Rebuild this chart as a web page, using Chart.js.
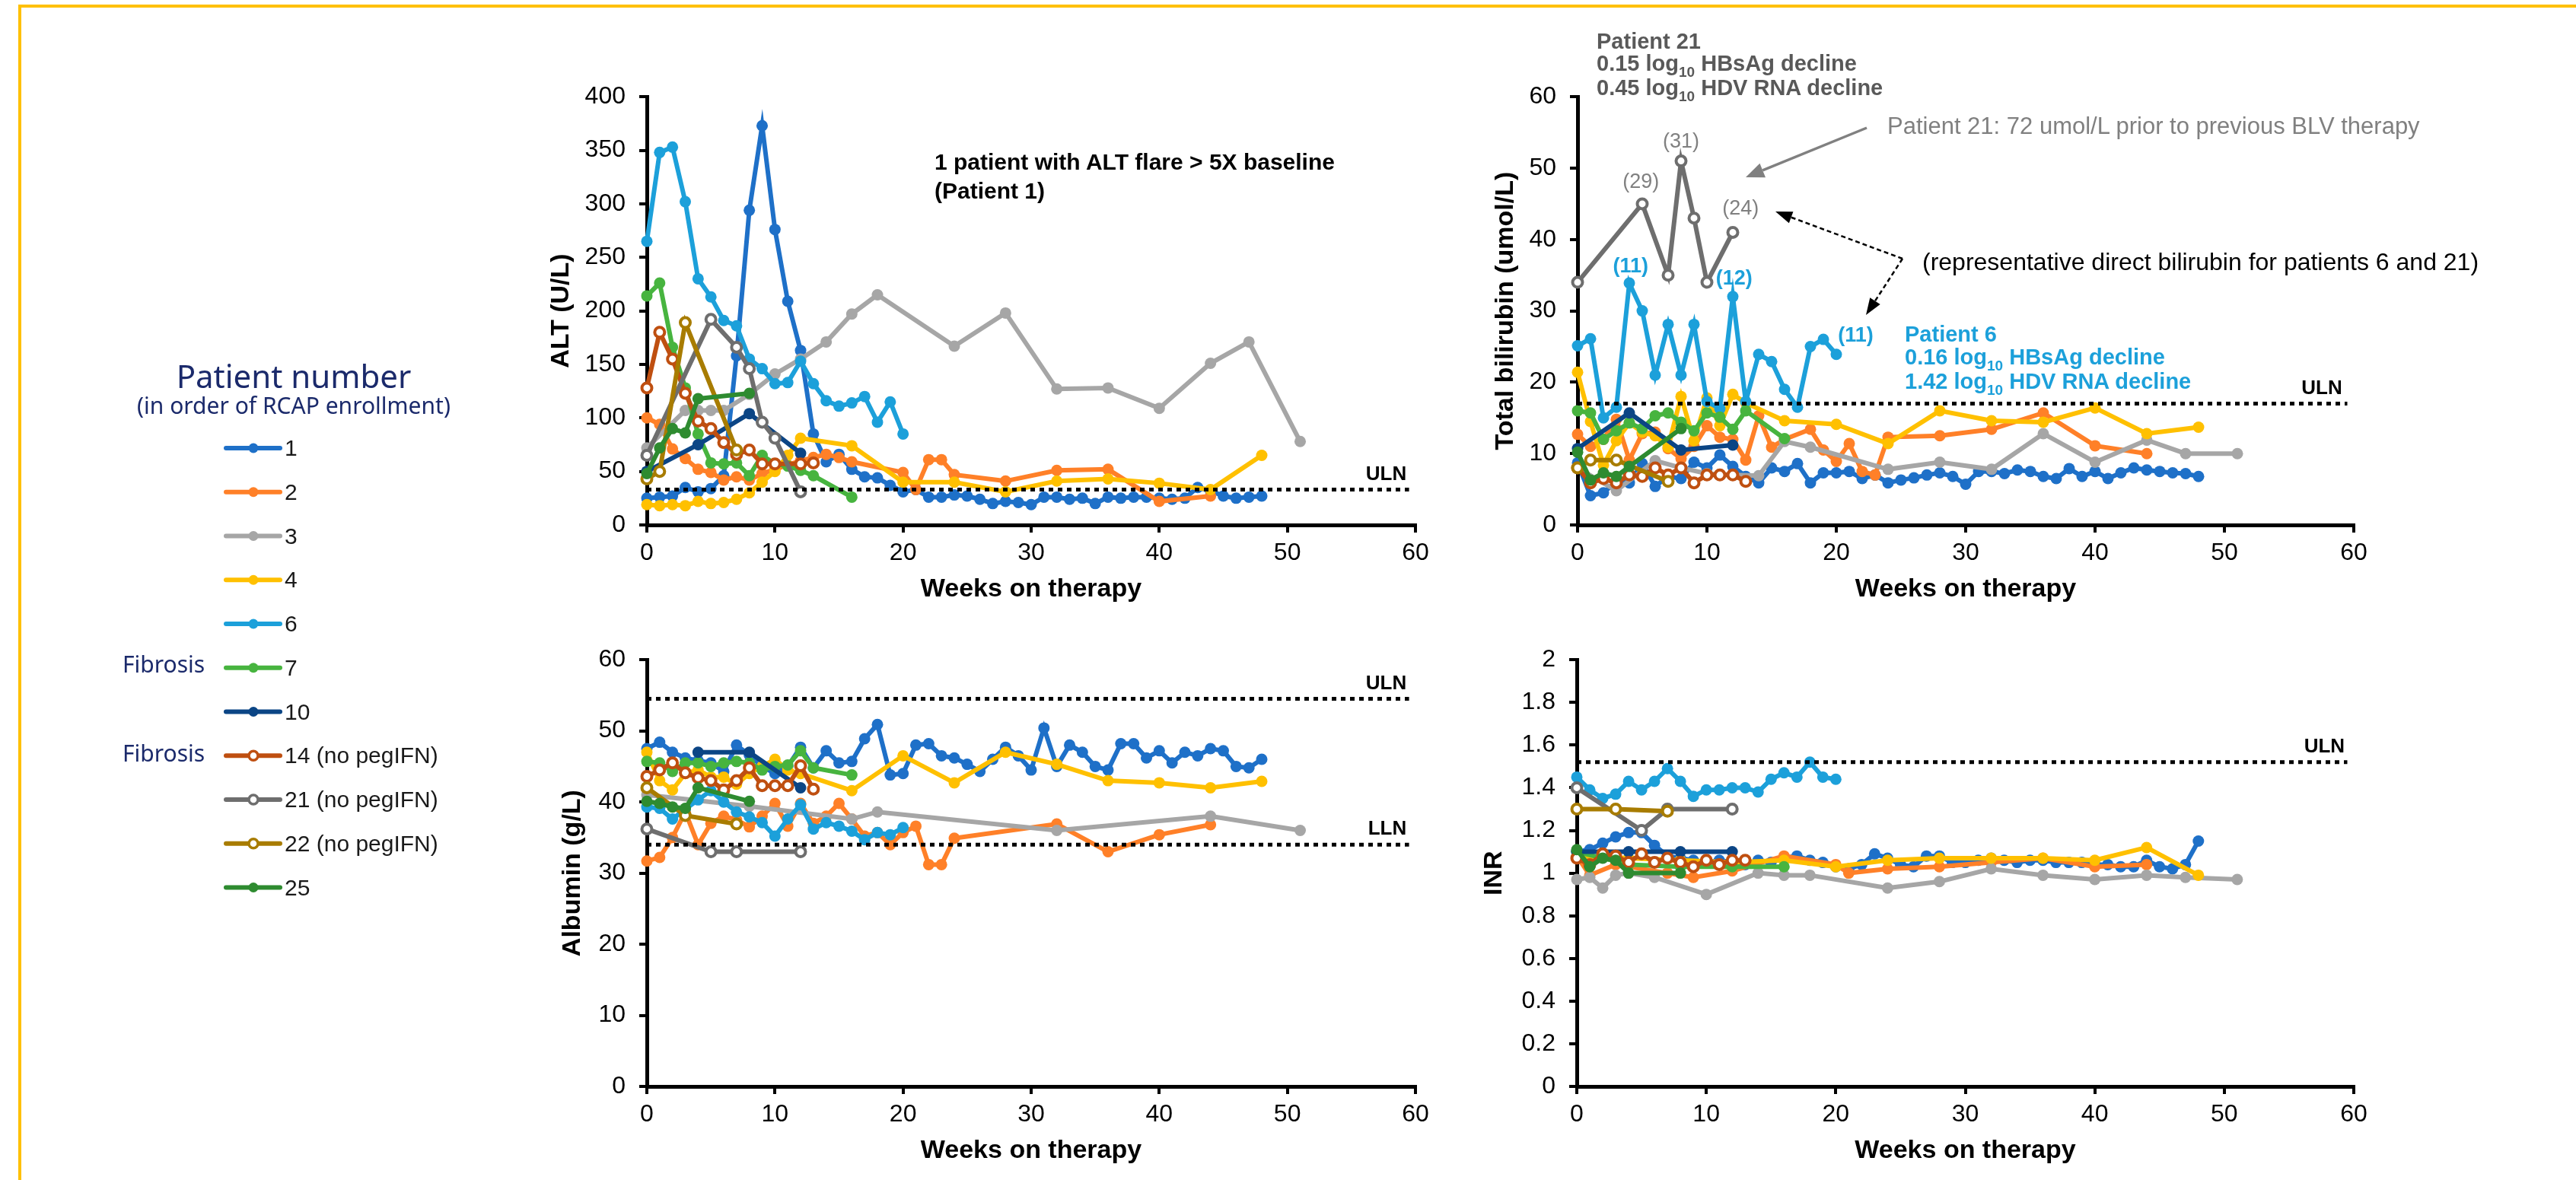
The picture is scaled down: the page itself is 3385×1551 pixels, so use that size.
<!DOCTYPE html>
<html><head><meta charset="utf-8">
<script src="https://cdn.jsdelivr.net/npm/chart.js@4.4.1/dist/chart.umd.min.js"></script>
<style>
html,body{margin:0;padding:0;background:#fff;width:3385px;height:1551px;overflow:hidden;font-family:"Liberation Sans",Arial,sans-serif;}
.frameTop{position:absolute;left:24px;top:6px;width:3361px;height:4px;background:#FFC000;}
.frameLeft{position:absolute;left:24px;top:6px;width:4px;height:1545px;background:#FFC000;}
canvas{position:absolute;}
.t{position:absolute;white-space:nowrap;}
.sub{font-size:19px;position:relative;top:8px;}
.nav{color:#1B2A6B;font-family:"Noto Sans","Open Sans",sans-serif;}
</style></head><body>
<div class="frameTop"></div><div class="frameLeft"></div>
<canvas id="alt" width="1200" height="705" style="left:700px;top:90px"></canvas>
<canvas id="bili" width="1203" height="705" style="left:1930px;top:90px"></canvas>
<canvas id="alb" width="1200" height="703" style="left:700px;top:830px"></canvas>
<canvas id="inr" width="1203" height="703" style="left:1930px;top:830px"></canvas>
<svg id="ov" width="3385" height="1551" style="position:absolute;left:0;top:0;pointer-events:none"></svg>

<div class="t nav" style="left:386px;top:493px;transform:translate(-50%,-50%);font-size:42px">Patient number</div>
<div class="t nav" style="left:386px;top:532px;transform:translate(-50%,-50%);font-size:30px">(in order of RCAP enrollment)</div>
<div class="t nav" style="left:161px;top:872px;transform:translateY(-50%);font-size:30px">Fibrosis</div>
<div class="t nav" style="left:161px;top:989px;transform:translateY(-50%);font-size:30px">Fibrosis</div>
<div id="legend"></div>

<div class="t" style="left:1228px;top:194px;font-size:30px;font-weight:bold;line-height:37.5px;color:#000">1 patient with ALT flare &gt; 5X baseline<br>(Patient 1)</div>
<div class="t" style="left:2098px;top:40px;font-size:29px;font-weight:bold;line-height:29px;color:#595959">Patient 21<br>0.15 log<span class="sub">10</span> HBsAg decline<br>0.45 log<span class="sub">10</span> HDV RNA decline</div>
<div class="t" style="left:2503px;top:425px;font-size:29px;font-weight:bold;line-height:29.5px;color:#1CA0DA">Patient 6<br>0.16 log<span class="sub">10</span> HBsAg decline<br>1.42 log<span class="sub">10</span> HDV RNA decline</div>
<div class="t" style="left:2480px;top:148px;font-size:31px;line-height:36px;color:#808080">Patient 21: 72 umol/L prior to previous BLV therapy</div>
<div class="t" style="left:2526px;top:326px;font-size:32px;line-height:36px;color:#000">(representative direct bilirubin for patients 6 and 21)</div>

<script>
// ---------------- DATA ----------------
const PATIENTS = ['1','2','3','4','6','7','10','14','21','22','25'];
const LEGEND_LABELS = ['1','2','3','4','6','7','10','14 (no pegIFN)','21 (no pegIFN)','22 (no pegIFN)','25'];
const X_TICKS = [0,10,20,30,40,50,60];

const W0_48 = [0,1,2,3,4,5,6,7,8,9,10,11,12,13,14,15,16,17,18,19,20,21,22,23,24,25,26,27,28,29,30,31,32,33,34,35,36,37,38,39,40,41,42,43,44,45,46,47,48];
const W0_20 = [0,1,2,3,4,5,6,7,8,9,10,11,12,13,14,15,16,17,18,19,20];
const W0_13 = [0,1,2,3,4,5,6,7,8,9,10,11,12,13];
const W7 = [0,1,2,3,4,5,6,7,8,9,10,11,12,13,16];

// ALT (U/L)
const ALT_ULN = 33;
const ALT_P1 = [25,26,27,35,31,34,46,158,294,373,276,209,163,85,59,66,52,45,44,37,31,33,26,26,28,27,24,20,22,21,19,26,26,24,25,20,26,25,26,26,25,24,25,35,32,27,25,26,27];
const ALT_P2_WK = [0,1,2,3,4,5,6,7,8,9,10,11,12,13,14,15,16,20,21,22,23,24,28,32,36,40,44];
const ALT_P2 = [100,94,71,62,52,49,42,45,42,48,52,56,60,63,66,63,59,49,33,61,61,47,41,51,52,22,27];
const ALT_P3_WK = [0,3,4,5,6,8,10,12,14,16,18,24,28,32,36,40,44,47,51];
const ALT_P3 = [72,107,107,107,107,122,141,155,171,197,215,167,198,127,128,109,151,171,78];
const ALT_P4_WK = [0,1,2,3,4,5,6,7,8,9,10,11,12,16,20,24,28,32,36,40,44,48];
const ALT_P4 = [19,18,19,18,22,20,21,24,30,40,50,65,81,74,40,40,31,41,43,39,33,65];
const ALT_P6 = [265,348,353,302,230,213,191,186,155,146,132,133,153,132,116,111,114,120,96,115,85];
const ALT_P7 = [214,226,166,128,85,58,57,58,46,65,57,55,51,46,26];
const ALT_P10_WK = [0,4,8,12];
const ALT_P10 = [50,75,104,67];
const ALT_P14_WK = [0,1,2,3,4,5,6,7,8,9,10,12,13];
const ALT_P14 = [128,180,155,123,97,90,77,66,70,57,57,57,58];
const ALT_P21_WK = [0,5,7,8,9,10,12];
const ALT_P21 = [65,192,166,146,96,81,31];
const ALT_P22_WK = [0,1,3,7];
const ALT_P22 = [43,50,189,70];
const ALT_P25_WK = [0,1,2,3,4,8];
const ALT_P25 = [48,72,90,86,118,123];

// Total bilirubin (umol/L)
const BILI_ULN = 17;
const BILI_P1 = [8.7,4.1,4.5,6.1,5.9,8.6,5.4,6.8,6.5,8.8,8,9.8,8.2,6.8,5.9,8,7.5,8.6,5.9,7.3,7.3,7.5,6.5,7,5.9,6.3,6.6,7,7.3,6.8,5.7,7.5,7.5,7.2,7.7,7.5,6.8,6.5,7.9,6.8,7.5,6.5,7.3,8,7.7,7.5,7.3,7.2,6.8];
const BILI_P2_WK = [0,1,2,3,4,5,6,7,8,9,10,11,12,13,14,15,16,18,19,20,21,22,23,24,28,32,36,40,44];
const BILI_P2 = [12.7,11,12,14.8,9.1,12.8,13,10.7,9.3,11,13.9,12.3,12,9.1,15.3,10.9,12,13.4,10.5,8.9,11.4,7.5,7,12.3,12.5,13.4,15.7,11.1,10];
const BILI_P3_WK = [0,3,6,8,10,12,14,16,18,24,28,32,36,40,44,47,51];
const BILI_P3 = [8,4.8,9,8,7.2,7,6.9,11.7,10.9,7.8,8.8,7.8,12.8,8.8,11.9,10,10];
const BILI_P4_WK = [0,1,2,3,4,5,6,7,8,9,10,11,12,13,16,20,24,28,32,36,40,44,48];
const BILI_P4 = [21.4,14.5,8.4,11.8,14.3,13,12.5,10.9,18,11.8,17.8,13.9,18.3,17.1,14.6,14.1,11.4,16,14.6,14.4,16.4,12.8,13.7];
const BILI_P6 = [25.1,26.1,15,16.5,33.9,30,21,28.1,21,28.1,17.3,16.3,32,17.3,23.9,22.9,19,16.5,25,26,23.9];
const BILI_P7 = [16,15.7,12,13.2,14.3,13.5,15.3,15.7,14.4,13.2,15.7,15.1,13.4,16,12.1];
const BILI_P10_WK = [0,4,8,12];
const BILI_P10 = [10.7,15.7,10.5,11.2];
const BILI_P14 = [8,5.9,6.5,5.9,7,6.8,8,7,8,5.9,7,7,7,6.1];
const BILI_P21_WK = [0,5,7,8,9,10,12];
const BILI_P21 = [34,45,35,51,43,34,41];
const BILI_P22_WK = [0,1,3,7];
const BILI_P22 = [8,9.1,9.1,6.1];
const BILI_P25_WK = [0,1,2,3,4,8];
const BILI_P25 = [10.2,6.3,7.3,6.8,8.2,13.5];

// Albumin (g/L)
const ALB_ULN = 54.5, ALB_LLN = 34;
const ALB_P1 = [47.5,48.4,47,46.2,45.8,45.5,44.3,48,46.6,45,44,45,47.7,44.8,47.2,45.5,45.7,48.9,50.9,43.8,44,48,48.2,46.5,46.2,45.3,44.3,46,47.7,46.5,44.5,50.4,45,48,47,45,44.5,48.2,48.2,46.2,47.2,45.5,47,46.5,47.5,47.2,45,44.8,46];
const ALB_P2_WK = [0,1,2,3,4,5,6,7,8,9,10,11,12,13,14,15,16,17,18,19,20,21,22,23,24,32,36,40,44];
const ALB_P2 = [31.7,32.2,35,38.6,34,37,38,37.5,36.5,38,39.8,36.6,39.8,37,38,39.8,37.6,35.2,35.7,34,35.7,36.6,31.2,31.2,34.9,36.9,33,35.4,36.8];
const ALB_P3_WK = [0,8,16,18,32,44,51];
const ALB_P3 = [41,39.4,37.6,38.6,36,38,36];
const ALB_P4_WK = [0,1,2,3,4,5,6,7,8,9,10,11,12,16,20,24,28,32,36,40,44,48];
const ALB_P4 = [47,43,41.7,44,44.5,43.5,43.5,42.5,44,45,46,44.5,44,41.6,46.5,42.7,47,45.3,43,42.7,42,42.9];
const ALB_P6 = [39.3,39.1,37.6,39,40.3,41.6,40,38.6,37.9,37.1,35.2,37.6,39.6,36.2,37.1,36.6,35.9,34.7,35.7,35.4,36.4];
const ALB_P7 = [45.7,45.5,44.3,45.5,45.5,45,45.5,45.7,45.5,44.5,45,45.2,47.2,44.8,43.8];
const ALB_P10_WK = [4,8,12];
const ALB_P10 = [47,47,42];
const ALB_P14 = [43.6,44.5,45.5,44.1,43.4,43,41.7,43,44.8,42.3,42.3,42.3,45.1,41.8];
const ALB_P21_WK = [0,5,7,12];
const ALB_P21 = [36.2,33,33,33];
const ALB_P22_WK = [0,3,7];
const ALB_P22 = [42,38.1,36.9];
const ALB_P25_WK = [0,1,2,3,4,8];
const ALB_P25 = [40.1,39.8,39.3,39.1,42,40.1];

// INR
const INR_ULN = 1.52;
const INR_P1 = [1.1,1.11,1.14,1.17,1.19,1.19,1.13,1.08,1.07,1.06,1.05,1.06,1.05,1.04,1.06,1.05,1.07,1.08,1.06,1.05,1.03,1.02,1.04,1.09,1.07,1.04,1.03,1.08,1.08,1.05,1.05,1.06,1.07,1.06,1.05,1.06,1.06,1.05,1.05,1.05,1.04,1.04,1.03,1.03,1.06,1.03,1.02,1.04,1.15];
const INR_P2_WK = [0,1,3,7,9,12,16,20,21,24,28,32,36,40,44];
const INR_P2 = [1.08,0.99,1.04,1.0,0.98,1.01,1.08,1.04,1.0,1.02,1.03,1.05,1.07,1.03,1.04];
const INR_P3_WK = [0,1,2,3,4,6,10,14,16,18,24,28,32,36,40,44,47,51];
const INR_P3 = [0.97,0.98,0.93,0.99,1.0,0.98,0.9,1.0,0.99,0.99,0.93,0.96,1.02,0.99,0.97,0.99,0.98,0.97];
const INR_P4_WK = [0,4,8,12,16,20,24,28,32,36,40,44,48];
const INR_P4 = [1.08,1.07,1.06,1.05,1.06,1.03,1.06,1.07,1.07,1.07,1.06,1.12,0.99];
const INR_P6 = [1.45,1.39,1.35,1.37,1.43,1.39,1.43,1.49,1.43,1.36,1.39,1.39,1.4,1.4,1.38,1.44,1.47,1.45,1.52,1.45,1.44];
const INR_P7_WK = [0,4,8,12,16];
const INR_P7 = [1.1,1.04,1.03,1.03,1.03];
const INR_P10_WK = [0,4,8,12];
const INR_P10 = [1.1,1.1,1.1,1.1];
const INR_P14 = [1.07,1.04,1.09,1.08,1.05,1.09,1.05,1.07,1.05,1.03,1.06,1.04,1.06,1.06];
const INR_P21_WK = [0,5,7,12];
const INR_P21 = [1.4,1.2,1.3,1.3];
const INR_P22_WK = [0,3,7];
const INR_P22 = [1.3,1.3,1.29];
const INR_P25_WK = [0,1,2,3,4,8];
const INR_P25 = [1.11,1.03,1.07,1.06,1.0,1.0];

// ---------------- STYLE ----------------
const COLORS = ['#1E70C8','#FF8028','#A6A6A6','#FFC000','#1CA0DA','#47B43F','#0B4585','#BF4F10','#6E6E6E','#A87C00','#2E8B30'];
const OPEN = [false,false,false,false,false,false,false,true,true,true,false];
const FONT = '"Liberation Sans", Arial, sans-serif';
Chart.defaults.font.family = FONT;
Chart.defaults.color = '#000';

const textMarks = {
  id: 'textMarks',
  afterDatasetsDraw(chart, args, opts) {
    const items = opts.items || [];
    const ctx = chart.ctx, xs = chart.scales.x, ys = chart.scales.y;
    ctx.save();
    items.forEach(it => {
      ctx.font = it.font; ctx.fillStyle = it.color;
      ctx.textAlign = it.align || 'center'; ctx.textBaseline = 'middle';
      ctx.fillText(it.text, xs.getPixelForValue(it.x), ys.getPixelForValue(it.y) + (it.dy || 0));
    });
    ctx.restore();
  }
};
Chart.register(textMarks);

function series(idx, wk, vals) {
  const c = COLORS[idx], open = OPEN[idx];
  return {
    label: 'Patient ' + PATIENTS[idx],
    data: wk.map((w, i) => ({x: w, y: vals[i]})),
    borderColor: c, backgroundColor: open ? '#fff' : c,
    pointBackgroundColor: open ? '#fff' : c, pointBorderColor: c,
    pointRadius: open ? 6.5 : 7.5, pointBorderWidth: open ? 4 : 0,
    borderWidth: 6, tension: 0, clip: 20, order: -idx
  };
}
function refLine(v) {
  return { label: 'ref', data: [{x: 0, y: v}, {x: 59.5, y: v}], borderColor: '#000', borderWidth: 5,
    borderDash: [6, 6], borderCapStyle: 'butt', pointRadius: 0, clip: 20, order: -100 };
}

function makeChart(id, o) {
  const datasets = o.series.map(s => series(s[0], s[1], s[2]));
  o.refs.forEach(r => datasets.push(refLine(r)));
  new Chart(document.getElementById(id), {
    type: 'line',
    data: { datasets },
    options: {
      responsive: false, animation: false, devicePixelRatio: 1,
      layout: { padding: { left: 0, right: 40, top: o.padTop, bottom: 0 } },
      plugins: { legend: { display: false }, tooltip: { enabled: false },
        textMarks: { items: o.marks } },
      scales: {
        x: {
          type: 'linear', min: 0, max: 60,
          afterBuildTicks: s => { s.ticks = X_TICKS.map(v => ({value: v})); },
          afterFit: s => { s.height = 105; },
          ticks: { font: { size: 32 }, color: '#000', padding: 8, maxRotation: 0 },
          grid: { drawOnChartArea: false, drawTicks: true, tickLength: 10, lineWidth: 4, color: '#000' },
          border: { display: true, color: '#000', width: 5 },
          title: { display: true, text: 'Weeks on therapy', font: { size: 34, weight: 'bold' }, color: '#000', padding: { top: 0, bottom: 0 } }
        },
        y: {
          type: 'linear', min: o.ymin, max: o.ymax,
          afterBuildTicks: s => { s.ticks = o.yticks.map(v => ({value: v})); },
          afterFit: s => { s.width = o.yw; },
          ticks: { font: { size: 32 }, color: '#000', padding: 18, callback: v => String(+(+v).toFixed(1)) },
          grid: { drawOnChartArea: false, drawTicks: true, tickLength: 10, lineWidth: 4, color: '#000' },
          border: { display: true, color: '#000', width: 5 },
          title: { display: true, text: o.ytitle, font: { size: 34, weight: 'bold' }, color: '#000', padding: { top: o.tpad, bottom: 0 } }
        }
      }
    }
  });
}

const ULN_FONT = 'bold 26px ' + FONT;
makeChart('alt', {
  yw: 150, padTop: 37, tpad: 17.6, ymin: 0, ymax: 400, yticks: [0,50,100,150,200,250,300,350,400], ytitle: 'ALT (U/L)',
  series: [[0,W0_48,ALT_P1],[1,ALT_P2_WK,ALT_P2],[2,ALT_P3_WK,ALT_P3],[3,ALT_P4_WK,ALT_P4],[4,W0_20,ALT_P6],[5,W7,ALT_P7],
           [6,ALT_P10_WK,ALT_P10],[7,ALT_P14_WK,ALT_P14],[8,ALT_P21_WK,ALT_P21],[9,ALT_P22_WK,ALT_P22],[10,ALT_P25_WK,ALT_P25]],
  refs: [ALT_ULN],
  marks: [{text: 'ULN', x: 59.3, y: ALT_ULN, dy: -20, align: 'right', font: ULN_FONT, color: '#000'}]
});
const GRAYF = '27px ' + FONT, BLUEF = 'bold 27px ' + FONT;
makeChart('bili', {
  yw: 143, padTop: 37, tpad: 28.6, ymin: 0, ymax: 60, yticks: [0,10,20,30,40,50,60], ytitle: 'Total bilirubin (umol/L)',
  series: [[0,W0_48,BILI_P1],[1,BILI_P2_WK,BILI_P2],[2,BILI_P3_WK,BILI_P3],[3,BILI_P4_WK,BILI_P4],[4,W0_20,BILI_P6],[5,W7,BILI_P7],
           [6,BILI_P10_WK,BILI_P10],[7,W0_13,BILI_P14],[8,BILI_P21_WK,BILI_P21],[9,BILI_P22_WK,BILI_P22],[10,BILI_P25_WK,BILI_P25]],
  refs: [BILI_ULN],
  marks: [
    {text: 'ULN', x: 59.1, y: BILI_ULN, dy: -20, align: 'right', font: ULN_FONT, color: '#000'},
    {text: '(29)', x: 4.9, y: 48, font: GRAYF, color: '#808080'},
    {text: '(31)', x: 8.0, y: 53.7, font: GRAYF, color: '#808080'},
    {text: '(24)', x: 12.6, y: 44.3, font: GRAYF, color: '#808080'},
    {text: '(11)', x: 4.1, y: 36.2, font: BLUEF, color: '#1CA0DA'},
    {text: '(12)', x: 12.1, y: 34.5, font: BLUEF, color: '#1CA0DA'},
    {text: '(11)', x: 21.5, y: 26.5, font: BLUEF, color: '#1CA0DA'}
  ]
});
makeChart('alb', {
  yw: 150, padTop: 35, tpad: 32.6, ymin: 0, ymax: 60, yticks: [0,10,20,30,40,50,60], ytitle: 'Albumin (g/L)',
  series: [[0,W0_48,ALB_P1],[1,ALB_P2_WK,ALB_P2],[2,ALB_P3_WK,ALB_P3],[3,ALB_P4_WK,ALB_P4],[4,W0_20,ALB_P6],[5,W7,ALB_P7],
           [6,ALB_P10_WK,ALB_P10],[7,W0_13,ALB_P14],[8,ALB_P21_WK,ALB_P21],[9,ALB_P22_WK,ALB_P22],[10,ALB_P25_WK,ALB_P25]],
  refs: [ALB_ULN, ALB_LLN],
  marks: [
    {text: 'ULN', x: 59.3, y: ALB_ULN, dy: -20, align: 'right', font: ULN_FONT, color: '#000'},
    {text: 'LLN', x: 59.3, y: ALB_LLN, dy: -20, align: 'right', font: ULN_FONT, color: '#000'}
  ]
});
makeChart('inr', {
  yw: 142, padTop: 35, tpad: 13.6, ymin: 0, ymax: 2, yticks: [0,0.2,0.4,0.6,0.8,1,1.2,1.4,1.6,1.8,2], ytitle: 'INR',
  series: [[0,W0_48,INR_P1],[1,INR_P2_WK,INR_P2],[2,INR_P3_WK,INR_P3],[3,INR_P4_WK,INR_P4],[4,W0_20,INR_P6],[5,INR_P7_WK,INR_P7],
           [6,INR_P10_WK,INR_P10],[7,W0_13,INR_P14],[8,INR_P21_WK,INR_P21],[9,INR_P22_WK,INR_P22],[10,INR_P25_WK,INR_P25]],
  refs: [INR_ULN],
  marks: [{text: 'ULN', x: 59.3, y: INR_ULN, dy: -20, align: 'right', font: ULN_FONT, color: '#000'}]
});

// ---------------- legend + arrows (overlay) ----------------
const NS = 'http://www.w3.org/2000/svg';
const svg = document.getElementById('ov');
function el(tag, attrs) { const e = document.createElementNS(NS, tag); for (const k in attrs) e.setAttribute(k, attrs[k]); svg.appendChild(e); return e; }
const leg = document.getElementById('legend');
PATIENTS.forEach((p, i) => {
  const y = 589 + i * 57.75;
  el('line', {x1: 297, y1: y, x2: 368, y2: y, stroke: COLORS[i], 'stroke-width': 6, 'stroke-linecap': 'round'});
  el('circle', {cx: 333, cy: y, r: OPEN[i] ? 6 : 6.5, fill: OPEN[i] ? '#fff' : COLORS[i], stroke: COLORS[i], 'stroke-width': OPEN[i] ? 3.5 : 0});
  const d = document.createElement('div');
  d.className = 't';
  d.style.cssText = 'left:374px;top:' + y + 'px;transform:translateY(-50%);font-size:30px;color:#1a1a1a;font-family:' + FONT;
  d.textContent = LEGEND_LABELS[i];
  leg.appendChild(d);
});
function arrow(x1, y1, x2, y2, color, w, dash, hl, hw) {
  const dx = x2 - x1, dy = y2 - y1, L = Math.hypot(dx, dy), ux = dx / L, uy = dy / L;
  const bx = x2 - ux * hl, by = y2 - uy * hl, px = -uy * hw, py = ux * hw;
  const a = {x1, y1, x2: bx, y2: by, stroke: color, 'stroke-width': w};
  if (dash) a['stroke-dasharray'] = dash;
  el('line', a);
  el('polygon', {points: `${x2},${y2} ${bx + px},${by + py} ${bx - px},${by - py}`, fill: color});
}
arrow(2453, 168, 2294, 233, '#808080', 3.5, null, 24, 10);
arrow(2500, 340, 2333, 278, '#000', 2.5, '6 4', 22, 8);
arrow(2500, 340, 2452, 414, '#000', 2.5, '6 4', 22, 8);
</script>
</body></html>
